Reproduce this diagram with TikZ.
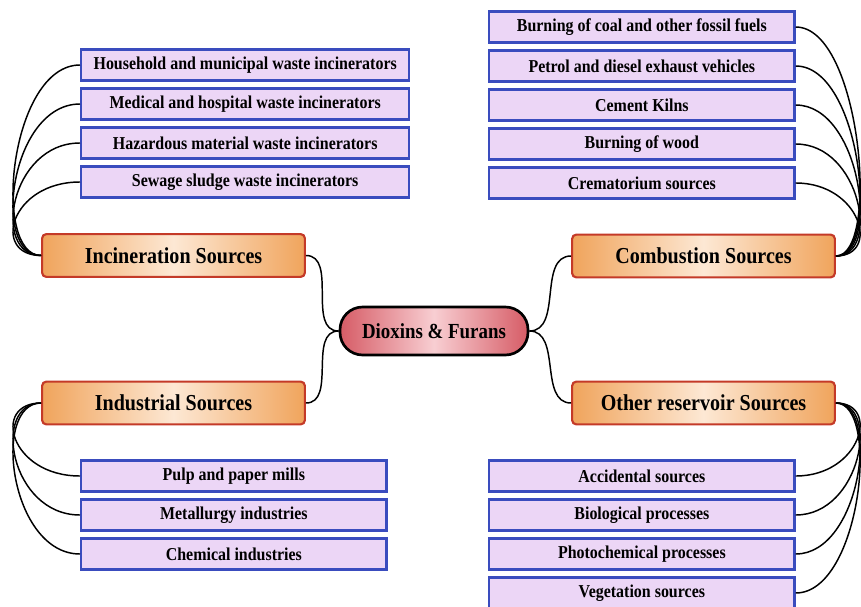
\documentclass[tikz,border=0pt]{standalone}
\usepackage{fontspec}
\setmainfont{Liberation Serif}[FakeStretch=0.88]
\usetikzlibrary{positioning}
\definecolor{leafblue}{RGB}{58,76,190}
\definecolor{leafpink}{RGB}{236,214,246}
\definecolor{srcedge}{RGB}{196,58,40}
\definecolor{srcorange}{RGB}{240,164,92}
\definecolor{srclight}{RGB}{253,232,212}
\definecolor{hubred}{RGB}{214,92,102}
\definecolor{hublight}{RGB}{248,206,210}

\begin{document}
\begin{tikzpicture}[x=0.75pt,y=-0.75pt]
\tikzset{leaf/.style={draw=leafblue,line width=1.8pt,fill=leafpink,minimum height=23pt,inner sep=0pt,anchor=west,font=\bfseries\fontsize{13.6}{15}\selectfont},
src/.style={draw=srcedge,line width=1.6pt,rounded corners=3pt,left color=srcorange,right color=srcorange,middle color=srclight,minimum width=197pt,minimum height=32pt,inner sep=0pt,font=\bfseries\fontsize{17.1}{19}\selectfont},
hub/.style={draw=black,line width=2pt,rounded corners=17pt,left color=hubred,right color=hubred,middle color=hublight,minimum width=141pt,minimum height=36pt,inner sep=0pt,font=\bfseries\fontsize{16.1}{18}\selectfont},
link/.style={line width=1.1pt}}
\useasboundingbox (0,0) rectangle (861,607);

% centre and the four sources
\node[hub] (dx) at (434,331) {Dioxins \& Furans};
\node[src] (incin) at (173.5,255.5) {Incineration Sources};
\node[src] (comb) at (703.5,256) {Combustion Sources};
\node[src] (indus) at (173.5,403) {Industrial Sources};
\node[src] (other) at (703.5,403) {Other reservoir Sources};

\draw[link] (dx.west) to[out=180,in=0] (incin.east);
\draw[link] (dx.west) to[out=180,in=0] (indus.east);
\draw[link] (dx.east) to[out=0,in=180] (comb.west);
\draw[link] (dx.east) to[out=0,in=180] (other.west);

% leaves
\foreach\l[count=\i] in {Household and municipal waste incinerators,Medical and hospital waste incinerators,Hazardous material waste incinerators,Sewage sludge waste incinerators} {
\node[leaf,minimum width=246pt] (inc\i) at (80,{26+39*\i}) {\l};
\draw[link] (incin.west) .. controls +(-50,0) and +(-70,0) .. (inc\i.west); }

\foreach\l[count=\i] in {Burning of coal and other fossil fuels,Petrol and diesel exhaust vehicles,Cement Kilns,Burning of wood,Crematorium sources} {
\node[leaf,minimum width=229pt] (com\i) at (488,{-12+39*\i}) {\l};
\draw[link] (comb.east) .. controls +(45,0) and +(65,0) .. (com\i.east); }

\foreach\l[count=\i] in {Pulp and paper mills,Metallurgy industries,Chemical industries} {
\node[leaf,minimum width=229pt] (ind\i) at (80,{437+39*\i}) {\l};
\draw[link] (indus.west) .. controls +(-50,0) and +(-70,0) .. (ind\i.west); }

\foreach\l[count=\i] in {Accidental sources,Biological processes,Photochemical processes,Vegetation sources} {
\node[leaf,minimum width=229pt] (oth\i) at (488,{437+39*\i}) {\l};
\draw[link] (other.east) .. controls +(45,0) and +(65,0) .. (oth\i.east); }

\end{tikzpicture}
\end{document}
